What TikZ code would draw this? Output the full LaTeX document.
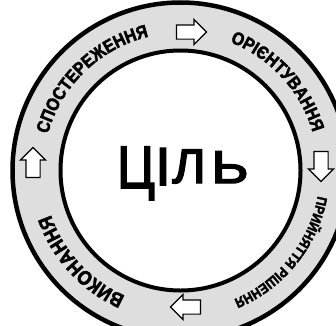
\documentclass[tikz,border=0pt]{standalone}
\usepackage{fontspec}
\setmainfont{Liberation Sans}
\newfontfamily\goalfam[FakeBold=3]{Liberation Sans}
\newfontfamily\ringfam[FakeStretch=0.88,BoldFeatures={FakeBold=2.5}]{Liberation Sans}
\usetikzlibrary{decorations.text,shapes.arrows}
\definecolor{ringgray}{gray}{0.87}
\newcommand\rtbig{\ringfam\bfseries\fontsize{18}{18}\selectfont}
\newcommand\rtsmall{\ringfam\bfseries\fontsize{14}{14}\selectfont}
\newcommand\rtlarge{\ringfam\bfseries\fontsize{20}{20}\selectfont}
\newcommand\goalfont{\goalfam\fontsize{60}{60}\selectfont}
\begin{document}
\begin{tikzpicture}[x=1pt,y=1pt,
  ringtext/.style={decorate,decoration={text along path,text align=center,text={#1}}},
  blockarrow/.style={single arrow,draw=black,fill=white,line width=1.2pt,
    minimum height=30pt,minimum width=24pt,inner xsep=0pt,inner ysep=6.5pt,
    single arrow head extend=5.5pt},
  goalletter/.style={anchor=base,inner sep=0pt}]
\useasboundingbox (0,0) rectangle (336,325);
\clip (0,0) rectangle (336,325);
\coordinate (C) at (180.5,154.5);
\fill[ringgray,even odd rule] (C) circle[radius=168] (C) circle[radius=120];
\draw[line width=4.5pt] (C) circle[radius=168];
\draw[line width=4pt] (C) circle[radius=120];
% ring texts (clockwise, tops outward)
\begin{scope}
\rtbig
\path[ringtext={СПОСТЕРЕЖЕННЯ}] (C) ++(179:137.5) arc[start angle=179,end angle=89,radius=137.5];
\path[ringtext={ОРІЄНТУВАННЯ}] (C) ++(87.5:137.5) arc[start angle=87.5,end angle=-2.5,radius=137.5];
\end{scope}
\begin{scope}
\rtsmall
\path[ringtext={ПРИЙНЯТТЯ РІШЕННЯ}] (C) ++(6:139.5) arc[start angle=6,end angle=-84,radius=139.5];
\end{scope}
\begin{scope}
\rtlarge
\path[ringtext={ВИКОНАННЯ}] (C) ++(-92.5:137) arc[start angle=-92.5,end angle=-182.5,radius=137];
\end{scope}
% arrows
\node[blockarrow] (a1) at (188,293) {};
\node[blockarrow,rotate=-90] (a2) at (321,162) {};
\node[blockarrow,rotate=180] (a3) at (189,18) {};
\node[blockarrow,rotate=90] (a4) at (33,159) {};
% centre word
\node[goalletter] (c1) at (136,137) {\goalfont\scalebox{0.85}[1]{Ц}};
\node[goalletter] (c2) at (163,140) {\goalfont\scalebox{0.89}[0.89]{І}};
\node[goalletter] (c3) at (189,142) {\goalfont\scalebox{0.85}[0.81]{Л}};
\node[goalletter] (c4) at (230,142) {\goalfont\scalebox{0.95}[0.77]{Ь}};
\end{tikzpicture}
\end{document}
